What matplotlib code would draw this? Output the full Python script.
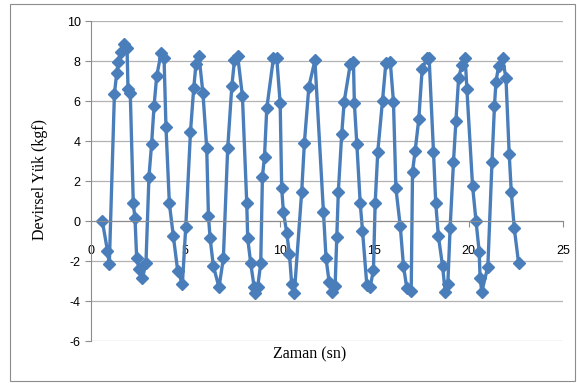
import matplotlib.pyplot as plt
from matplotlib.patches import Rectangle

plt.rcParams["axes.unicode_minus"] = False

# data
zaman = [0.60, 0.87, 0.97, 1.24, 1.36, 1.45, 1.57, 1.75, 1.91, 1.96, 2.08,
         2.24, 2.33, 2.42, 2.56, 2.72, 2.91, 3.07, 3.21, 3.34, 3.48, 3.71,
         3.87, 3.97, 4.15, 4.36, 4.59, 4.84, 5.02, 5.27, 5.44, 5.56, 5.72,
         5.93, 6.13, 6.22, 6.31, 6.48, 6.78, 7.01, 7.24, 7.46, 7.60, 7.77,
         8.02, 8.25, 8.30, 8.46, 8.64, 8.69, 8.83, 8.99, 9.08, 9.19, 9.31,
         9.66, 9.84, 10.02, 10.10, 10.19, 10.37, 10.51, 10.63, 10.77, 11.16,
         11.30, 11.54, 11.86, 12.31, 12.45, 12.61, 12.79, 12.93, 13.02, 13.10,
         13.28, 13.41, 13.73, 13.90, 13.95, 14.08, 14.26, 14.38, 14.61, 14.79,
         14.96, 15.05, 15.19, 15.44, 15.62, 15.85, 16.02, 16.15, 16.38, 16.55,
         16.73, 16.96, 17.03, 17.17, 17.36, 17.54, 17.79, 17.91, 18.14, 18.26,
         18.40, 18.62, 18.76, 18.90, 19.02, 19.20, 19.33, 19.47, 19.64, 19.82,
         19.91, 20.21, 20.39, 20.56, 20.61, 20.70, 21.02, 21.24, 21.37, 21.45,
         21.59, 21.80, 21.98, 22.15, 22.26, 22.42, 22.65]
yuk = [0.00, -1.48, -2.15, 6.35, 7.38, 7.97, 8.47, 8.85, 8.63, 6.60, 6.38,
       0.88, 0.13, -1.87, -2.42, -2.87, -2.12, 2.22, 3.85, 5.75, 7.25, 8.38,
       8.13, 4.72, 0.88, -0.75, -2.48, -3.15, -0.28, 4.47, 6.63, 7.85, 8.25,
       6.38, 3.63, 0.25, -0.87, -2.25, -3.32, -1.87, 3.63, 6.75, 8.05, 8.25,
       6.25, 0.88, -0.87, -2.12, -3.32, -3.62, -3.28, -2.12, 2.22, 3.22, 5.63,
       8.13, 8.13, 5.88, 1.63, 0.47, -0.62, -1.65, -3.15, -3.62, 1.47,
       3.88, 6.72, 8.03, 0.47, -1.87, -3.03, -3.53, -3.25, -0.78, 1.47,
       4.35, 5.97, 7.83, 7.97, 5.88, 3.85, 0.88, -0.48, -3.20, -3.28,
       -2.45, 0.88, 3.47, 6.02, 7.92, 7.97, 5.97, 1.63, -0.25, -2.25,
       -3.37, -3.48, 2.47, 3.52, 5.08, 7.60, 8.13, 8.13, 3.47, 0.88,
       -0.75, -2.25, -3.53, -3.15, -0.37, 2.97, 5.02, 7.13, 7.80, 8.13,
       6.58, 1.75, 0.02, -1.53, -2.87, -3.53, -2.28, 2.97, 5.75, 6.97,
       7.75, 8.13, 7.13, 3.35, 1.47, -0.37, -2.12]
x_ticks = [0, 5, 10, 15, 20, 25]
y_ticks = [-6, -4, -2, 0, 2, 4, 6, 8, 10]

fig = plt.figure(figsize=(5.77, 3.83), dpi=100)
fig.patches.append(Rectangle((10 / 577, 2 / 383), 565 / 577, 377 / 383,
                             transform=fig.transFigure, fill=False,
                             edgecolor="#8c8c8c", linewidth=0.8))
ax = fig.add_axes([91 / 577, 1 - 341 / 383, 472 / 577, 320 / 383])

ax.plot(zaman, yuk, color="#4a7ebb", linewidth=2.4, marker="D",
        markersize=6.5, markerfacecolor="#4a7ebb", markeredgecolor="#4a7ebb")

ax.set_xlim(0, 25)
ax.set_ylim(-6, 10)
ax.set_xticks(x_ticks)
ax.set_yticks(y_ticks)
ax.yaxis.grid(True, color="#b3b3b3", linewidth=0.9)
ax.set_axisbelow(True)

for s in ["top", "right"]:
    ax.spines[s].set_visible(False)
ax.spines["bottom"].set_position(("data", 0))
ax.spines["bottom"].set_color("#8c8c8c")
ax.spines["left"].set_color("#8c8c8c")
ax.tick_params(axis="both", colors="#8c8c8c", labelcolor="#000000",
               labelsize=9, length=4, width=0.8)
ax.tick_params(axis="x", pad=13)
for lbl in ax.get_xticklabels() + ax.get_yticklabels():
    lbl.set_fontfamily("Liberation Sans")

fig.text(40 / 577, 1 - 180 / 383, "Devirsel Yük (kgf)", rotation=90,
         ha="center", va="center", family="Liberation Serif", fontsize=11.5)
fig.text(310 / 577, 1 - 354 / 383, "Zaman (sn)", ha="center", va="center",
         family="Liberation Serif", fontsize=11.5)

fig.savefig("out.png", dpi=100)
